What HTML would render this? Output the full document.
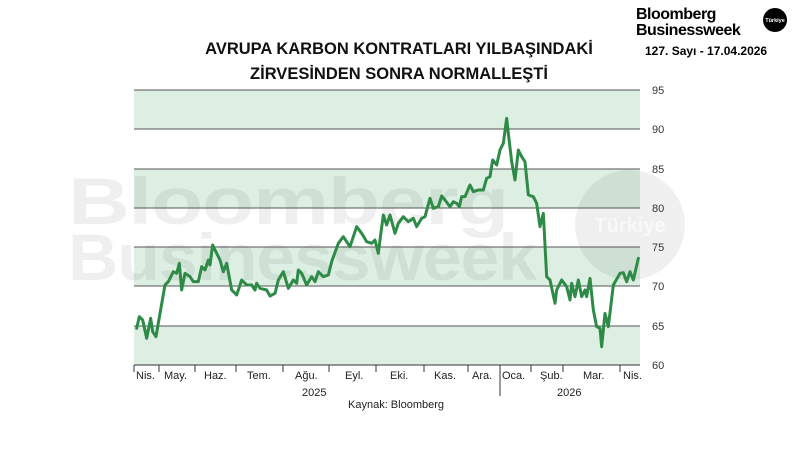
<!DOCTYPE html>
<html><head><meta charset="utf-8"><style>
body{margin:0;background:#fff;}
svg text{font-family:"Liberation Sans",sans-serif;}
</style></head><body>
<svg width="800" height="450" viewBox="0 0 800 450" xmlns="http://www.w3.org/2000/svg">
<rect width="800" height="450" fill="#fff"/>
<g fill="#dcefe2">
<rect x="134" y="90" width="506" height="39"/>
<rect x="134" y="169" width="506" height="39"/>
<rect x="134" y="247" width="506" height="39"/>
<rect x="134" y="326" width="506" height="39"/>
</g>
<g fill="#000" opacity="0.06" font-weight="bold">
<text x="68" y="224" font-size="66" font-family="Liberation Sans" letter-spacing="-1" textLength="440" lengthAdjust="spacingAndGlyphs">Bloomberg</text>
<text x="68" y="280" font-size="66" font-family="Liberation Sans" letter-spacing="-1" textLength="468" lengthAdjust="spacingAndGlyphs">Businessweek</text>
<circle cx="630" cy="225" r="55"/>
</g>
<text x="630" y="232" font-size="20" font-weight="bold" fill="#fff" opacity="0.6" text-anchor="middle">Türkiye</text>
<g stroke="#555" stroke-width="1">
<line x1="134" y1="90" x2="640" y2="90"/>
<line x1="134" y1="129" x2="640" y2="129"/>
<line x1="134" y1="169" x2="640" y2="169"/>
<line x1="134" y1="208" x2="640" y2="208"/>
<line x1="134" y1="247" x2="640" y2="247"/>
<line x1="134" y1="286" x2="640" y2="286"/>
<line x1="134" y1="326" x2="640" y2="326"/>
<line x1="134" y1="365" x2="640" y2="365" stroke="#333"/>
</g>
<g stroke="#333" stroke-width="1">
<line x1="134" y1="365" x2="134" y2="372"/><line x1="159" y1="365" x2="159" y2="372"/>
<line x1="195" y1="365" x2="195" y2="372"/><line x1="236" y1="365" x2="236" y2="372"/>
<line x1="283" y1="365" x2="283" y2="372"/><line x1="329" y1="365" x2="329" y2="372"/>
<line x1="376" y1="365" x2="376" y2="372"/><line x1="424" y1="365" x2="424" y2="372"/>
<line x1="468" y1="365" x2="468" y2="372"/><line x1="500" y1="365" x2="500" y2="396"/>
<line x1="531" y1="365" x2="531" y2="372"/><line x1="563" y1="365" x2="563" y2="372"/>
<line x1="620" y1="365" x2="620" y2="372"/>
</g>
<g font-size="11" fill="#222">
<text x="136" y="379">Nis.</text><text x="164" y="379">May.</text><text x="204" y="379">Haz.</text>
<text x="247" y="379">Tem.</text><text x="295" y="379">Ağu.</text><text x="345" y="379">Eyl.</text>
<text x="390" y="379">Eki.</text><text x="434" y="379">Kas.</text><text x="472" y="379">Ara.</text>
<text x="502" y="379">Oca.</text><text x="540" y="379">Şub.</text><text x="583" y="379">Mar.</text>
<text x="623" y="379">Nis.</text>
<text x="302" y="396">2025</text><text x="557" y="396">2026</text>
<text x="348" y="408">Kaynak: Bloomberg</text>
</g>
<g font-size="11" fill="#333">
<text x="652" y="94">95</text><text x="652" y="133">90</text><text x="652" y="173">85</text>
<text x="652" y="212">80</text><text x="652" y="251">75</text><text x="652" y="290">70</text>
<text x="652" y="330">65</text><text x="652" y="369">60</text>
</g>
<g font-size="16.5" font-weight="bold" fill="#111" text-anchor="middle">
<text x="399" y="54">AVRUPA KARBON KONTRATLARI YILBAŞINDAKİ</text>
<text x="399" y="79">ZİRVESİNDEN SONRA NORMALLEŞTİ</text>
</g>
<g fill="#000" font-weight="bold">
<text x="636" y="19" font-size="16" letter-spacing="-0.5">Bloomberg</text>
<text x="636" y="35" font-size="16" letter-spacing="-0.5">Businessweek</text>
<circle cx="775" cy="20" r="12"/>
<text x="645" y="55" font-size="12">127. Sayı - 17.04.2026</text>
</g>
<text x="775" y="22" font-size="5.5" font-weight="bold" fill="#fff" text-anchor="middle">Türkiye</text>
<g transform="translate(120 80) scale(0.33333)">
<polyline fill="none" stroke="#2e8b47" stroke-width="9" stroke-linejoin="round" stroke-linecap="round" points="50,745 58,710 68,720 80,775 92,715 98,755 108,770 120,700 135,615 145,605 160,575 170,580 178,550 185,630 195,580 210,590 220,605 235,605 245,560 255,570 265,540 270,555 278,495 290,520 300,540 310,575 320,550 335,630 350,645 365,600 380,615 395,615 405,630 410,610 420,625 440,630 450,648 465,640 475,600 490,575 505,625 520,600 530,610 535,570 545,580 560,615 575,590 585,605 595,575 610,590 625,585 635,545 655,490 670,470 680,485 690,500 710,440 725,460 740,485 755,490 765,480 775,520 780,480 790,405 800,435 810,405 825,460 835,430 850,410 865,425 880,415 890,440 905,415 915,410 930,355 940,385 955,380 965,348 975,360 990,380 1000,365 1010,370 1018,380 1025,350 1035,350 1050,315 1060,335 1075,330 1090,330 1100,295 1110,290 1118,240 1130,255 1140,210 1150,190 1160,115 1165,160 1175,245 1185,300 1195,210 1205,230 1215,245 1225,345 1240,350 1250,370 1260,440 1270,400 1280,590 1290,600 1305,670 1310,630 1325,600 1340,620 1350,660 1355,610 1365,650 1375,600 1385,650 1395,630 1400,650 1410,595 1420,690 1430,740 1440,745 1445,800 1455,700 1465,740 1480,615 1500,580 1510,578 1520,605 1530,575 1540,600 1555,535"/>
</g>
</svg>
</body></html>
